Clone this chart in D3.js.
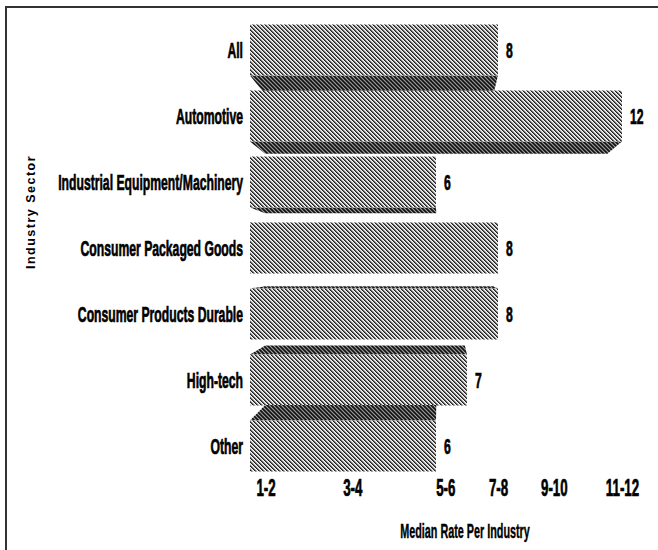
<!DOCTYPE html>
<html><head><meta charset="utf-8">
<script src="https://cdn.jsdelivr.net/npm/d3@7"></script>
<style>body{margin:0;background:#fff} svg{display:block}</style>
</head><body>
<script>
const categories = ["All","Automotive","Industrial Equipment/Machinery","Consumer Packaged Goods","Consumer Products Durable","High-tech","Other"];
const values = [8,12,6,8,8,7,6];
const tickLabels = ["1-2","3-4","5-6","7-8","9-10","11-12"];
const tickPositions = [0.5,3.3,6.3,8.0,9.8,12.0];
const xTitle = "Median Rate Per Industry";
const yTitle = "Industry Sector";

const W=658,H=550;
const FONT = "'Liberation Sans',Arial,sans-serif";
const svg = d3.select("body").append("svg").attr("width",W).attr("height",H);
const defs = svg.append("defs");

function makePattern(id, bg, cells){
  const p = defs.append("pattern").attr("id",id).attr("patternUnits","userSpaceOnUse").attr("width",4).attr("height",4);
  p.append("rect").attr("width",4).attr("height",4).attr("fill",bg);
  cells.forEach(([cx,cy,col])=>p.append("rect").attr("x",cx).attr("y",cy).attr("width",1).attr("height",1).attr("fill",col).attr("shape-rendering","crispEdges"));
}
const lightCells=[], darkCells=[];
for(let i=0;i<4;i++){
  lightCells.push([i,i,"#222"],[(i+1)%4,i,"#666"],[(i+2)%4,i,"#d0d0d0"],[(i+3)%4,i,"#f4f4f4"]);
  darkCells.push([i,i,"#999"],[(i+1)%4,i,"#333"],[(i+2)%4,i,"#111"],[(i+3)%4,i,"#444"]);
}
makePattern("light","#fff",lightCells);
makePattern("dark","#000",darkCells);

const x = d3.scaleLinear().domain([0,12]).range([250,622]);
const y = d3.scalePoint().domain(categories).range([50,446]);
const faceH = 51;
const vp = {x:440, y:265}, kx=0.08, ky=0.1;

// frame
svg.append("path").attr("d",`M6,${H} V7 H${W}`).attr("fill","none").attr("stroke","#333").attr("stroke-width",2);

const bars = svg.append("g");
categories.forEach((c,i)=>{
  const v = values[i];
  const x0=x(0), x1=x(v), yt=y(c)-faceH/2, yb=yt+faceH;
  const bx0 = x0+(vp.x-x0)*kx, bx1 = x1+(vp.x-x1)*kx;
  if (yb < vp.y){
    const yb2 = yb+(vp.y-yb)*ky;
    bars.append("path").attr("d",`M${x0},${yb}L${x1},${yb}L${bx1},${yb2}L${bx0},${yb2}Z`).attr("fill","url(#dark)");
  } else if (yt > vp.y){
    const yt2 = yt-(yt-vp.y)*ky;
    bars.append("path").attr("d",`M${x0},${yt}L${x1},${yt}L${bx1},${yt2}L${bx0},${yt2}Z`).attr("fill","url(#dark)");
  }
  bars.append("rect").attr("x",x0).attr("y",yt).attr("width",x1-x0).attr("height",faceH).attr("fill","url(#light)");
});

function heavy(sel, size){
  sel.style("font-family",FONT).style("font-weight","bold").style("font-size",size)
     .attr("fill","#000").attr("stroke","#000").attr("stroke-width",0.7);
}

// category labels
const catText = svg.append("g").selectAll("text").data(categories).join("text")
  .attr("text-anchor","end").attr("dy","0.35em")
  .text(d=>d);
heavy(catText,"22px");
// condensed look: fit the longest label to the reference width
const longest = catText.filter(d=>d===categories[2]).node().getComputedTextLength();
const SX = 185/longest;
catText.attr("transform",d=>`translate(243,${y(d)}) scale(${SX},1)`);

// value labels
const valText = svg.append("g").selectAll("text").data(values).join("text")
  .attr("transform",(d,i)=>`translate(${x(d)+8},${y(categories[i])}) scale(${SX},1)`)
  .attr("text-anchor","start").attr("dy","0.35em")
  .text(d=>d);
heavy(valText,"22px");

// x axis
const ax = svg.append("g").attr("transform","translate(0,479)")
  .call(d3.axisBottom(x).tickValues(tickPositions).tickFormat((d,i)=>tickLabels[i]).tickSize(0).tickPadding(0));
ax.select(".domain").remove();
const tickText = ax.selectAll("text").attr("y",0).attr("dy","0.71em").attr("transform",`scale(${SX},1)`);
heavy(tickText,"24px");

// x title
const xt = svg.append("text").attr("transform",`translate(465,531) scale(${SX},1)`)
  .attr("text-anchor","middle").attr("dy","0.35em")
  .text(xTitle);
heavy(xt,"19.5px");
xt.attr("stroke-width",0.4);

// y title
svg.append("text").attr("transform","translate(31,212) rotate(-90)")
  .attr("text-anchor","middle").attr("dy","0.35em")
  .style("font-family",FONT).style("font-weight","bold").style("font-size","12.5px")
  .style("letter-spacing","1.5px")
  .text(yTitle);
</script>
</body></html>
